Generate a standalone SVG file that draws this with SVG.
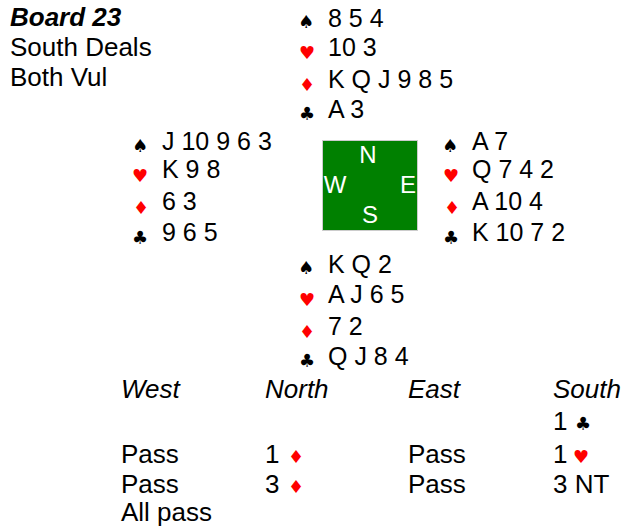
<svg xmlns="http://www.w3.org/2000/svg" width="621" height="529" viewBox="0 0 621 529">
<style>
text{font-family:"Liberation Sans",Arial,sans-serif;font-size:26px;fill:#000}
.h{font-size:25px}
.b{font-weight:bold;font-style:italic}
.i{font-style:italic}
.s{font-family:"DejaVu Sans",sans-serif;font-size:18px;text-anchor:middle}
.r{fill:#ff0000}
.c{fill:#ffffff;text-anchor:middle;font-size:24px}
</style>
<rect width="621" height="529" fill="#fff"/>
<g id="info">
<text class="b" x="10" y="26">Board 23</text>
<text x="10" y="56">South Deals</text>
<text x="10" y="86">Both Vul</text>
</g>
<g id="north">
<text class="s" x="306" y="28">♠</text><text class="h" x="328" y="27">8 5 4</text>
<text class="s r" x="307" y="59">♥</text><text class="h" x="328" y="56">10 3</text>
<text class="s r" x="307" y="91">♦</text><text class="h" x="328" y="88">K Q J 9 8 5</text>
<text class="s" x="307" y="120">♣</text><text class="h" x="328" y="118">A 3</text>
</g>
<g id="west">
<text class="s" x="140" y="152">♠</text><text class="h" x="162" y="150">J 10 9 6 3</text>
<text class="s r" x="140" y="182">♥</text><text class="h" x="162" y="178">K 9 8</text>
<text class="s r" x="141" y="214">♦</text><text class="h" x="162" y="210">6 3</text>
<text class="s" x="140" y="244">♣</text><text class="h" x="162" y="241">9 6 5</text>
</g>
<g id="compass">
<rect x="322.5" y="140.5" width="95" height="90" fill="#008000" stroke="#cccccc" stroke-width="1"/>
<text class="c" x="368" y="163">N</text>
<text class="c" x="335" y="193">W</text>
<text class="c" x="408" y="193">E</text>
<text class="c" x="370" y="223">S</text>
</g>
<g id="east">
<text class="s" x="450" y="152">♠</text><text class="h" x="472" y="150">A 7</text>
<text class="s r" x="451" y="182">♥</text><text class="h" x="472" y="178">Q 7 4 2</text>
<text class="s r" x="452" y="214">♦</text><text class="h" x="472" y="210">A 10 4</text>
<text class="s" x="451" y="244">♣</text><text class="h" x="472" y="241">K 10 7 2</text>
</g>
<g id="south">
<text class="s" x="306" y="274">♠</text><text class="h" x="328" y="273">K Q 2</text>
<text class="s r" x="307" y="306">♥</text><text class="h" x="328" y="303">A J 6 5</text>
<text class="s r" x="307" y="338">♦</text><text class="h" x="328" y="335">7 2</text>
<text class="s" x="307" y="367">♣</text><text class="h" x="328" y="365">Q J 8 4</text>
</g>
<g id="bidding">
<text class="i" x="121" y="398">West</text>
<text class="i" x="265" y="398">North</text>
<text class="i" x="408" y="398">East</text>
<text class="i" x="553" y="398">South</text>
<text x="553" y="430">1</text><text class="s" x="583" y="430">♣</text>
<text x="121" y="463">Pass</text>
<text x="265" y="463">1</text><text class="s r" x="296" y="463">♦</text>
<text x="408" y="463">Pass</text>
<text x="553" y="463">1</text><text class="s r" x="581" y="463">♥</text>
<text x="121" y="493">Pass</text>
<text x="265" y="493">3</text><text class="s r" x="296" y="493">♦</text>
<text x="408" y="493">Pass</text>
<text x="553" y="493">3 NT</text>
<text x="121" y="521">All pass</text>
</g>
</svg>
